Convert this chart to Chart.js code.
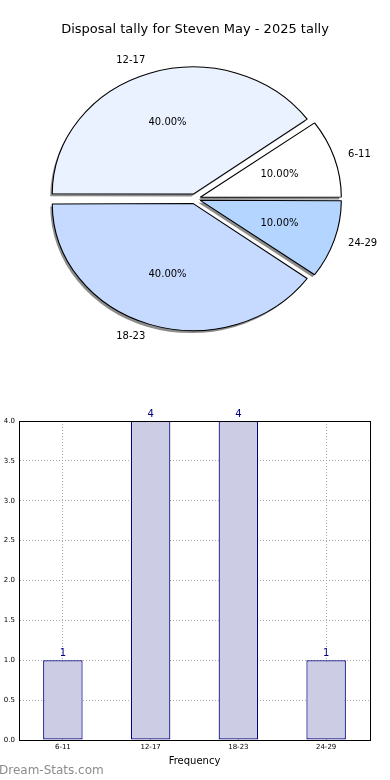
<!DOCTYPE html>
<html>
<head>
<meta charset="utf-8">
<script src="https://cdn.jsdelivr.net/npm/chart.js@4.4.1/dist/chart.umd.min.js"></script>
<style>
  body { margin: 0; background: #fff; }
  #wrap { position: relative; width: 390px; height: 780px; overflow: hidden; }
  canvas { position: absolute; left: 0; }
  #pie { top: 0; }
  #bars { top: 390px; }
  #mark { position: absolute; left: -1px; top: 763px; font: 12px 'DejaVu Sans', sans-serif; color: #8c8c8c; }
</style>
</head>
<body>
<div id="wrap">
  <canvas id="pie" width="390" height="370"></canvas>
  <canvas id="bars" width="390" height="390"></canvas>
  <div id="mark">Dream-Stats.com</div>
</div>
<script>
var titleText = 'Disposal tally for Steven May - 2025 tally';
var bins = ['6-11', '12-17', '18-23', '24-29'];
var tally = [1, 4, 4, 1];
var sliceColours = ['#ffffff', '#eaf1ff', '#c6d9ff', '#b3d5ff'];
var yMax = 4;
var yStep = 0.5;

var font = 'DejaVu Sans';
var total = tally.reduce(function (a, b) { return a + b; }, 0);

// matplotlib goes counter-clockwise from 3 o'clock, chart.js clockwise,
// so feed the slices in reverse
var pieLabels = bins.slice().reverse();
var pieValues = tally.slice().reverse();
var pieFill = sliceColours.slice().reverse();

var stretch = 1.11; // pie is drawn as a flat ellipse

var ellipse = {
  id: 'ellipse',
  beforeDatasetsDraw: function (chart) {
    var a = chart.chartArea, ctx = chart.ctx;
    var cx = (a.left + a.right) / 2;
    ctx.save();
    ctx.translate(cx, 0);
    ctx.scale(stretch, 1);
    ctx.translate(-cx, 0);
    // drop shadows first, under every wedge
    ctx.save();
    ctx.translate(-2 / stretch, 2.5);
    chart.getDatasetMeta(0).data.forEach(function (arc) {
      var o = arc.options;
      arc.options = Object.create(o, {
        backgroundColor: { value: 'rgba(0,0,0,0.45)' },
        borderColor: { value: 'rgba(0,0,0,0)' }
      });
      arc.draw(ctx);
      arc.options = o;
    });
    ctx.restore();
  },
  afterDatasetsDraw: function (chart) {
    var ctx = chart.ctx;
    ctx.restore();
    var arcs = chart.getDatasetMeta(0).data;
    ctx.save();
    ctx.fillStyle = '#000';
    ctx.font = '10px "' + font + '"';
    ctx.textBaseline = 'middle';
    arcs.forEach(function (arc, i) {
      var p = arc.getProps(['x', 'y', 'startAngle', 'endAngle', 'outerRadius']);
      var shift = (arc.options.offset || 0) / 4;
      var mid = (p.startAngle + p.endAngle) / 2;
      var ux = Math.cos(mid), uy = Math.sin(mid);
      var r = p.outerRadius;
      // outer label
      var lr = shift + 1.12 * r;
      ctx.textAlign = ux > 0 ? 'left' : 'right';
      ctx.fillText(pieLabels[i], p.x + stretch * ux * lr, p.y + uy * lr);
      // percentage
      var pr = shift + 0.6 * r;
      ctx.textAlign = 'center';
      var pct = (pieValues[i] / total * 100).toFixed(2) + '%';
      ctx.fillText(pct, p.x + stretch * ux * pr, p.y + uy * pr);
    });
    ctx.restore();
  }
};

new Chart(document.getElementById('pie'), {
  type: 'pie',
  data: {
    labels: pieLabels,
    datasets: [{
      data: pieValues,
      backgroundColor: pieFill,
      borderColor: '#000',
      borderWidth: 1,
      offset: 20,
      clip: false
    }]
  },
  options: {
    responsive: false,
    animation: false,
    devicePixelRatio: 1,
    rotation: 90,
    radius: 125,
    layout: { padding: { top: 0, right: 40, bottom: 32, left: 40 } },
    plugins: {
      legend: { display: false },
      tooltip: { enabled: false },
      title: {
        display: true,
        text: titleText,
        color: '#000',
        font: { family: font, size: 13, weight: 'normal' },
        padding: { top: 22, bottom: 22 }
      }
    }
  },
  plugins: [ellipse]
});

var frame = {
  id: 'frame',
  afterDraw: function (chart) {
    var a = chart.chartArea, ctx = chart.ctx;
    ctx.save();
    ctx.strokeStyle = '#000';
    ctx.lineWidth = 1;
    ctx.strokeRect(Math.round(a.left) + 0.5, Math.round(a.top) + 0.5,
      Math.round(a.right - a.left), Math.round(a.bottom - a.top));
    ctx.restore();
  }
};

var valueLabels = {
  id: 'valueLabels',
  afterDatasetsDraw: function (chart) {
    var ctx = chart.ctx;
    ctx.save();
    ctx.fillStyle = '#000080';
    ctx.font = '10px "' + font + '"';
    ctx.textAlign = 'center';
    ctx.textBaseline = 'bottom';
    chart.getDatasetMeta(0).data.forEach(function (bar, i) {
      ctx.fillText(String(tally[i]), bar.x, bar.y - 2);
    });
    ctx.restore();
  }
};

var gridLines = { color: '#a8a8a8', drawTicks: false, offset: false };
var gridBorder = { color: '#000', width: 1, dash: [1, 2] };

new Chart(document.getElementById('bars'), {
  type: 'bar',
  data: {
    labels: bins,
    datasets: [{
      data: tally,
      backgroundColor: '#ccccE5',
      borderColor: '#000080',
      borderWidth: 1.2,
      borderSkipped: false,
      barPercentage: 0.45,
      categoryPercentage: 1
    }]
  },
  options: {
    responsive: false,
    animation: false,
    devicePixelRatio: 1,
    layout: { padding: { top: 31, right: 20, bottom: 13, left: 0 } },
    plugins: {
      legend: { display: false },
      tooltip: { enabled: false }
    },
    scales: {
      x: {
        grid: gridLines,
        border: gridBorder,
        ticks: { color: '#000', font: { family: font, size: 7 }, padding: 3, maxRotation: 0 },
        title: { display: true, text: 'Frequency', color: '#000', font: { family: font, size: 10 }, padding: 0 },
        afterFit: function (s) { s.height = 27; }
      },
      y: {
        min: 0,
        max: yMax,
        grid: gridLines,
        border: gridBorder,
        ticks: {
          stepSize: yStep,
          color: '#000',
          font: { family: font, size: 7 },
          padding: 4,
          callback: function (v) { return v.toFixed(1); }
        },
        afterFit: function (s) { s.width = 19; }
      }
    }
  },
  plugins: [frame, valueLabels]
});
</script>
</body>
</html>
